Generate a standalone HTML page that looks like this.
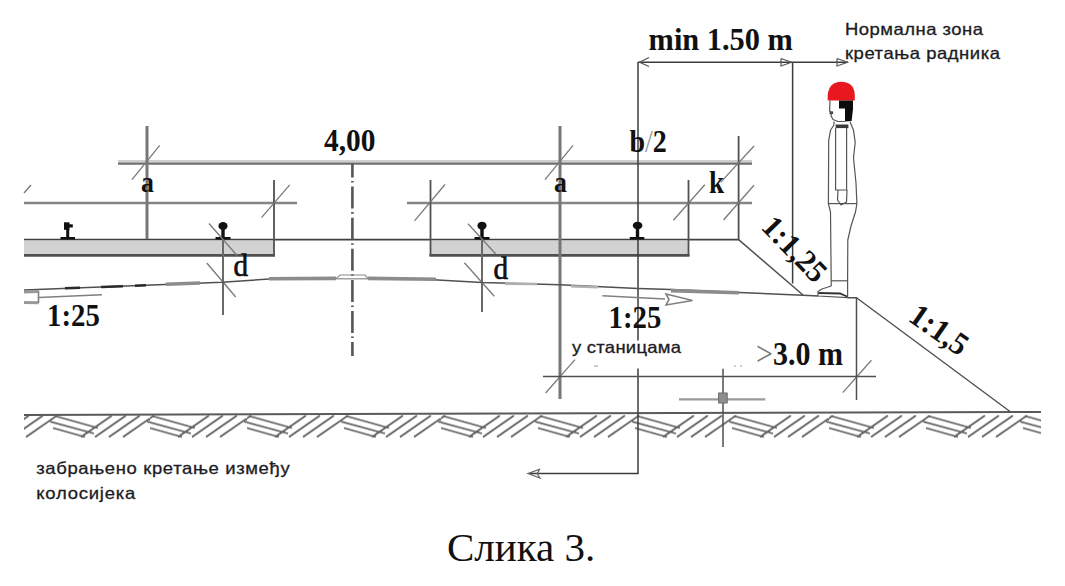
<!DOCTYPE html>
<html><head><meta charset="utf-8"><title>Слика 3</title>
<style>
html,body{margin:0;padding:0;background:#fff;width:1065px;height:586px;overflow:hidden}
svg{display:block}
.s{font-family:"Liberation Serif",serif;fill:#111}
.b{font-family:"Liberation Serif",serif;font-weight:bold;fill:#111}
.n{font-family:"Liberation Sans",sans-serif;fill:#1c1c24;stroke:#1c1c24;stroke-width:0.3px}
</style></head><body>
<svg width="1065" height="586" viewBox="0 0 1065 586">
<defs>
<pattern id="hatch" patternUnits="userSpaceOnUse" x="52" y="414.5" width="97" height="25">
<g stroke="#5a5a5a" stroke-width="1.7" fill="none">
<line x1="3" y1="1.5" x2="46" y2="13.5"/>
<line x1="-2" y1="7" x2="42" y2="19"/>
<line x1="1" y1="13.5" x2="33" y2="22.5"/>
<line x1="29" y1="22.5" x2="60" y2="1"/>
<line x1="43" y1="22.5" x2="74" y2="1"/>
<line x1="57" y1="22.5" x2="88" y2="1"/>
<line x1="71" y1="22.5" x2="102" y2="1"/>
<line x1="-26" y1="22.5" x2="5" y2="1"/>
<line x1="95" y1="7" x2="139" y2="19"/>
<line x1="98" y1="13.5" x2="130" y2="22.5"/>
</g></pattern>
</defs>
<rect width="1065" height="586" fill="#fff"/>

<!-- ground hatch -->
<rect x="24" y="415" width="1017" height="23.5" fill="url(#hatch)"/>
<line x1="24" y1="415" x2="1041" y2="412" stroke="#5a5a5a" stroke-width="2"/>

<!-- main horizontal lines -->
<g fill="none">
<line x1="118" y1="161.3" x2="752" y2="161.3" stroke-width="2.6" stroke="#cfcfcf"/>
<line x1="118" y1="163.6" x2="752" y2="163.6" stroke-width="2.2" stroke="#6e6e6e"/>
<line x1="24" y1="203" x2="297" y2="203" stroke-width="2.6" stroke="#858585"/>
<line x1="407" y1="203" x2="752" y2="203" stroke-width="2.6" stroke="#858585"/>
</g>
<line x1="24" y1="239.6" x2="739" y2="239.6" stroke-width="1.8" stroke="#404040"/>

<!-- sleepers -->
<rect x="24" y="240.5" width="249.5" height="13.5" fill="#d2d2d2"/>
<rect x="430.5" y="240.5" width="258" height="13.5" fill="#d2d2d2"/>
<g stroke="#505050" fill="none" stroke-width="2.8">
<line x1="24" y1="255.4" x2="275" y2="255.4"/>
<line x1="429.5" y1="255.4" x2="689.5" y2="255.4"/>
</g>
<g stroke="#505050" stroke-width="1.8" fill="none">
<line x1="274" y1="180" x2="274" y2="256"/>
<line x1="430.5" y1="180" x2="430.5" y2="256"/>
<line x1="688.5" y1="180" x2="688.5" y2="256"/>
<line x1="738.6" y1="136" x2="738.6" y2="240"/>
</g>

<!-- a verticals -->
<g stroke="#777" stroke-width="3">
<line x1="147" y1="126" x2="147" y2="239"/>
<line x1="560" y1="126" x2="560" y2="399"/>
</g>
<!-- rail verticals -->
<g stroke="#6a6a6a" stroke-width="2">
<line x1="223" y1="226" x2="223" y2="315"/>
<line x1="482" y1="225" x2="482" y2="312"/>
</g>
<!-- b/2 vertical + arrow line -->
<g stroke="#3c3c3c" stroke-width="1.5" fill="none">
<line x1="638" y1="62" x2="638" y2="340.5"/>
<polyline points="638,368.5 638,473.6 530,473.6"/>
<line x1="792.6" y1="62" x2="792.6" y2="283.5"/>
<line x1="638" y1="62.2" x2="848" y2="62.2"/>
</g>
<polyline points="540,469 528,473.6 540,478 537,473.6 540,469" fill="none" stroke="#666" stroke-width="1.2"/>

<!-- centerline -->
<line x1="352.4" y1="163.5" x2="352.4" y2="356" stroke="#555" stroke-width="2.6" stroke-dasharray="22,3.5,1.6,4" stroke-dashoffset="8"/>

<!-- rails -->
<g fill="#111">
<ellipse cx="223" cy="226" rx="4.6" ry="4"/><rect x="221.3" y="228" width="3.4" height="10"/><rect x="215.5" y="237" width="15" height="2.5"/>
<ellipse cx="482" cy="225.7" rx="4.6" ry="4"/><rect x="480.3" y="228" width="3.4" height="10"/><rect x="474.5" y="237" width="15" height="2.5"/>
<ellipse cx="637.6" cy="225.6" rx="4.8" ry="3.9"/><rect x="635.8" y="228" width="3.4" height="10"/><rect x="629.8" y="237" width="14.5" height="2.5"/>
<rect x="64" y="222.3" width="5.5" height="7.5"/><rect x="69" y="224.3" width="3.8" height="3.2"/><rect x="66.2" y="229" width="3" height="9"/><rect x="60.5" y="237" width="14.5" height="2.5"/>
</g>

<!-- tick slashes -->
<g stroke="#7a7a7a" stroke-width="1.3">
<line x1="132" y1="179.7" x2="159.7" y2="145.4"/>
<line x1="261.5" y1="217.6" x2="289.7" y2="184.8"/>
<line x1="414.5" y1="220.8" x2="445" y2="184.5"/>
<line x1="545" y1="179.7" x2="573" y2="145.4"/>
<line x1="673.4" y1="220.2" x2="704.8" y2="184.8"/>
<line x1="720.6" y1="182.4" x2="754" y2="146"/>
<line x1="723.5" y1="220" x2="754" y2="185.3"/>
<line x1="24" y1="193" x2="31" y2="185"/>
<line x1="209" y1="223.5" x2="237" y2="255.5"/>
<line x1="206.8" y1="263" x2="235.7" y2="297"/>
<line x1="468" y1="223.7" x2="495.7" y2="254"/>
<line x1="464.4" y1="262.8" x2="494.3" y2="296.2"/>
<line x1="545.6" y1="393" x2="575" y2="359.6"/>
<line x1="842.8" y1="392.6" x2="871.4" y2="360.3"/>
</g>

<!-- formation line -->
<g stroke="#505050" fill="none" stroke-width="1.5">
<polyline points="24,290 120,286.3 222,282.2 269,279 336,278.4"/>
<polyline points="368,278.4 420,279 482,282.4 559.7,284.7 638,288.5 671,289.6 739,292.5 803,295.2 818,296"/>
<line x1="738.6" y1="239.6" x2="803" y2="295"/>
<polyline points="847.6,297.7 856.5,297.7 856.5,400"/>
<line x1="856.5" y1="297.7" x2="1010" y2="411.5" stroke-width="1.4"/>
</g>
<g stroke="#8a8a8a" stroke-width="1.2" fill="none">
<polyline points="336,278.6 340,275 365,275 368,278.6"/>
<line x1="336" y1="278.8" x2="368" y2="278.8"/>
</g>
<g stroke="#2a2a2a" stroke-width="2.6" fill="none">
<line x1="65" y1="288.3" x2="80" y2="287.7"/>
<line x1="101" y1="287" x2="123" y2="286.2"/>
<line x1="135" y1="285.7" x2="146" y2="285.3"/>
</g>
<g stroke="#8c8c8c" stroke-width="3.6" fill="none">
<line x1="166" y1="284.3" x2="200" y2="283"/>
<line x1="269" y1="278.7" x2="336" y2="278.4"/>
<line x1="368" y1="278.4" x2="436" y2="279.2"/>
<line x1="505" y1="283.6" x2="537" y2="284" stroke="#b0b0b0" stroke-width="2.6"/>
<line x1="571" y1="286.2" x2="598" y2="287.3" stroke="#b0b0b0" stroke-width="2.6"/>
<line x1="671" y1="290.6" x2="739" y2="292.8"/>
</g>

<!-- arrows 1:25 -->
<g stroke="#808080" stroke-width="1.6" fill="none">
<line x1="38.5" y1="297.5" x2="102" y2="294.7"/>
<line x1="24" y1="292" x2="38.5" y2="291.5" stroke-width="3" stroke="#999"/>
<line x1="24" y1="302.6" x2="38.5" y2="302.8" stroke-width="3" stroke="#999"/>
<line x1="38.5" y1="291" x2="38.5" y2="303"/>
<line x1="602.4" y1="295.8" x2="665" y2="299"/>
<polygon points="666,294 692.5,300.5 666,305 669,299.5"/>
</g>

<!-- dimension line bottom -->
<g stroke="#505050" stroke-width="1.5">
<line x1="543" y1="376.5" x2="876" y2="376.5"/>
<line x1="723" y1="368.8" x2="723" y2="447"/>
</g>
<line x1="679" y1="399.3" x2="765.3" y2="399.3" stroke="#9a9a9a" stroke-width="2.2"/>
<rect x="718.6" y="393" width="8.6" height="10" fill="#8f8f8f" stroke="#6a6a6a" stroke-width="1"/>
<g fill="#aaa"><rect x="594" y="365.5" width="4" height="1.2"/><rect x="734" y="365.5" width="2" height="1.2"/><rect x="740" y="365.5" width="2" height="1.2"/></g>

<!-- worker -->
<g>
<path d="M827.7,100.4 L827.7,95 Q829,82 841,81.7 Q854.4,82 854.8,95 L854.8,100.4 Z" fill="#e8191e"/>
<path d="M839,100.4 L853,100.4 L853,109 L851.6,121 L845,121.5 L845,108.5 L839,108.5 Z" fill="#0c0c0c"/>
<rect x="829.6" y="111.4" width="3.5" height="2.6" fill="#333"/>
<g stroke="#555" stroke-width="1.2" fill="none" stroke-linejoin="round">
<path d="M830,100.4 L829.6,111 L832,113 L830.8,115.5 L833,119.5 L838,121.5 L845,121.5"/>
<path d="M834,121.5 L833.9,125 L830.5,130.3 L828.7,140.6 L828.4,203.6 L830.5,212 L831.2,280.8 L831.2,286 L822,289 L818,291.5 L818,296 L847.6,297.7 L847.6,280.8 L847.8,240 L851,226 L855.5,212 L856.9,203.6 L856,183 L853.5,158 L855.2,142.3 L853.5,130.3 L850,121.8"/>
<line x1="828.4" y1="203.6" x2="856.9" y2="203.6"/>
<line x1="831.2" y1="280.8" x2="847.6" y2="280.8"/>
<path d="M835.6,128 L835.6,190 L846.6,190 L846.6,128"/>
<path d="M838,190 L837.5,200 L841,205 L846.5,202 L847,190"/>
</g>
<rect x="835.6" y="124.5" width="12.8" height="3.6" fill="#3a3a3a"/>
<path d="M818.5,293 L840,293.5 L847,296.5" stroke="#333" stroke-width="1.8" fill="none"/>
</g>

<!-- dimension arrows top -->
<g stroke="#555" stroke-width="1.2" fill="none">
<polyline points="649,57.5 639.5,62.2 649,66.5"/>
<polyline points="781,58.5 791.5,62.2 781,66 781,58.5"/>
<polyline points="837,58.5 847.5,62.2 837,66 837,58.5"/>
</g>

<!-- texts -->
<text class="b" font-size="31" transform="translate(648.6,50) scale(0.98,1)">min 1.50 m</text>
<text class="b" font-size="32" transform="translate(324,151) scale(0.92,1)">4,00</text>
<text class="b" font-size="32" transform="translate(629.5,151.5) scale(0.875,1)">b<tspan style="font-weight:normal;fill:#999">/</tspan>2</text>
<text class="b" font-size="30" transform="translate(141,192.3) scale(0.86,1)">a</text>
<text class="b" font-size="30" transform="translate(554,192.3) scale(0.86,1)">a</text>
<text class="b" font-size="32" transform="translate(709,192.5) scale(0.85,1)">k</text>
<text class="s" font-size="31" transform="translate(233.5,276) scale(0.94,1)" style="stroke:#111;stroke-width:0.7px">d</text>
<text class="s" font-size="31" transform="translate(493.5,278.5) scale(0.94,1)" style="stroke:#111;stroke-width:0.7px">d</text>
<text class="b" font-size="31" transform="translate(47,325.5) scale(0.93,1)">1:25</text>
<text class="b" font-size="31" transform="translate(608.5,328) scale(0.93,1)">1:25</text>
<text class="b" font-size="33" transform="translate(756,364.5) scale(0.91,1)"><tspan style="font-weight:normal;fill:#777">&gt;</tspan>3.0 m</text>
<text class="b" font-size="31" transform="translate(760,228) rotate(46) scale(0.98,1)">1:1,25</text>
<text class="b" font-size="32" transform="translate(907,320) rotate(35) scale(0.96,1)">1:1,5</text>
<text class="n" font-size="16.5" transform="translate(845.0,34.5) scale(1.12,1)" textLength="123.2" lengthAdjust="spacing">Нормална зона</text>
<text class="n" font-size="16.5" transform="translate(845.0,59.0) scale(1.12,1)" textLength="138.4" lengthAdjust="spacing">кретања радника</text>
<text class="n" font-size="16.5" transform="translate(572.0,353.4) scale(1.12,1)" textLength="97.3" lengthAdjust="spacing">у станицама</text>
<text class="n" font-size="16.5" transform="translate(36.2,474.2) scale(1.12,1)" textLength="226.3" lengthAdjust="spacing">забрањено кретање између</text>
<text class="n" font-size="16.5" transform="translate(36.2,499.0) scale(1.12,1)" textLength="88.4" lengthAdjust="spacing">колосијека</text>
<text class="s" font-size="41" transform="translate(447,561.4)">Слика 3.</text>
</svg>
</body></html>
